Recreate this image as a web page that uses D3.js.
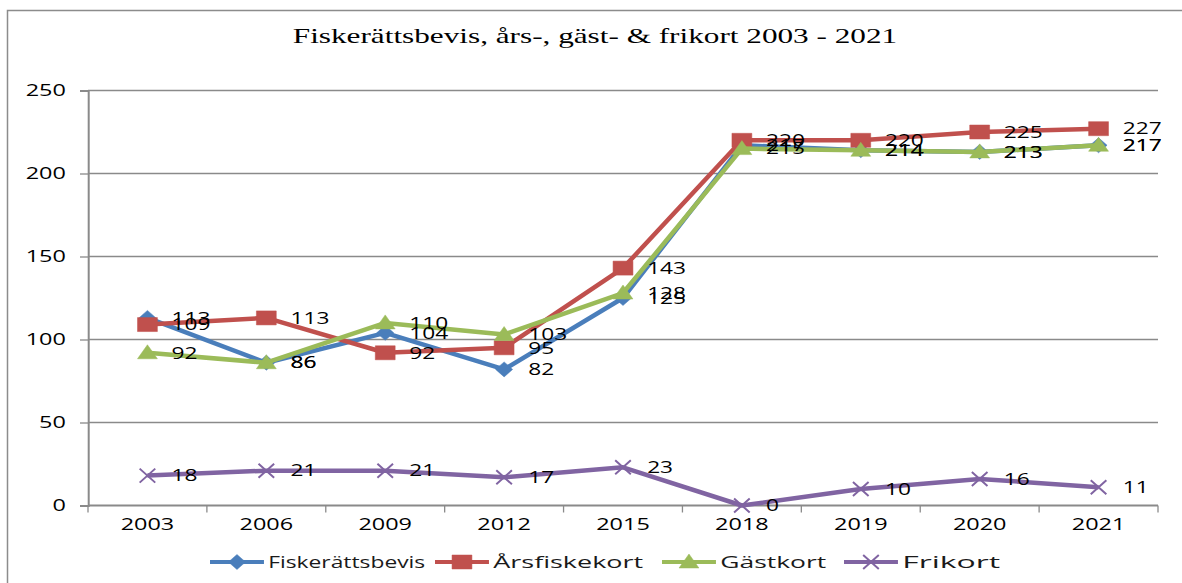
<!DOCTYPE html>
<html><head><meta charset="utf-8">
<script src="https://cdn.jsdelivr.net/npm/d3@7/dist/d3.min.js"></script>
<style>html,body{margin:0;padding:0;background:#fff;}svg{display:block;}</style>
</head><body>
<script>
const years = ["2003","2006","2009","2012","2015","2018","2019","2020","2021"];
const fiskerattsbevis = [113, 86, 104, 82, 125, 217, 214, 213, 217];
const arsfiskekort = [109, 113, 92, 95, 143, 220, 220, 225, 227];
const gastkort = [92, 86, 110, 103, 128, 215, 214, 213, 217];
const frikort = [18, 21, 21, 17, 23, 0, 10, 16, 11];
const yTicks = [0, 50, 100, 150, 200, 250];
const seriesNames = ["Fiskerättsbevis", "Årsfiskekort", "Gästkort", "Frikort"];
const titleText = "Fiskerättsbevis, års-, gäst- & frikort 2003 - 2021";

const W = 1182, H = 583, SX = 1.42;
const colors = ["#4A7EBB", "#C0504D", "#9BBB59", "#8064A2"];
const shapes = ["diamond", "square", "triangle", "x"];
const series = [fiskerattsbevis, arsfiskekort, gastkort, frikort].map((v, i) => ({name: seriesNames[i], values: v, color: colors[i], shape: shapes[i]}));

const svg = d3.select("body").append("svg").attr("width", W).attr("height", H);
// outer frame
svg.append("path").attr("d", `M7.5,${H} L7.5,10.5 L${W},10.5`).attr("fill", "none").attr("stroke", "#8c8c8c").attr("stroke-width", 1.5);

const g = svg.append("g").attr("transform", `scale(${SX},1)`);
const font = "'Open Sans', sans-serif";

const x = d3.scaleBand().domain(years).range([88 / SX, 1158 / SX]);
const y = d3.scaleLinear().domain([0, 250]).range([505.5, 90.5]);

// title
g.append("text").attr("x", 595 / SX).attr("y", 43).attr("text-anchor", "middle")
  .attr("font-family", "'Liberation Serif', 'Times New Roman', serif").attr("font-size", 22).attr("fill", "#000")
  .text(titleText);

// gridlines
g.append("g").selectAll("line").data(yTicks.filter(t => t > 0)).join("line")
  .attr("x1", x.range()[0]).attr("x2", x.range()[1])
  .attr("y1", d => y(d)).attr("y2", d => y(d))
  .attr("stroke", "#8a8a8a").attr("stroke-width", 1.3).attr("vector-effect", "non-scaling-stroke");

// y axis
const yAxis = g.append("g").attr("transform", `translate(${x.range()[0]},0)`)
  .call(d3.axisLeft(y).tickValues(yTicks).tickSize(8 / SX).tickPadding(10));
yAxis.select(".domain").attr("stroke", "#8a8a8a").attr("stroke-width", 2).attr("vector-effect", "non-scaling-stroke");
yAxis.selectAll(".tick line").attr("stroke", "#8a8a8a").attr("stroke-width", 1.3).attr("vector-effect", "non-scaling-stroke");
yAxis.selectAll(".tick text").attr("font-family", font).attr("font-size", 16.5).attr("fill", "#000");

// x axis
const xAxis = g.append("g").attr("transform", `translate(0,${y(0)})`)
  .call(d3.axisBottom(x).tickSize(0).tickPadding(13));
xAxis.select(".domain").remove();
xAxis.selectAll(".tick text").attr("font-family", font).attr("font-size", 16.5).attr("fill", "#000");
g.append("line").attr("x1", x.range()[0]).attr("x2", x.range()[1]).attr("y1", y(0)).attr("y2", y(0))
  .attr("stroke", "#8a8a8a").attr("stroke-width", 2).attr("vector-effect", "non-scaling-stroke");
const bounds = years.map(d => x(d)).concat([x.range()[1]]);
g.append("g").selectAll("line").data(bounds).join("line")
  .attr("x1", d => d).attr("x2", d => d).attr("y1", y(0)).attr("y2", y(0) + 7)
  .attr("stroke", "#8a8a8a").attr("stroke-width", 1.3).attr("vector-effect", "non-scaling-stroke");

function markerPath(shape) {
  if (shape === "diamond") return "M0,-7.5 L6,0 L0,7.5 L-6,0 Z";
  if (shape === "square") return "M-7,-7 L7,-7 L7,7 L-7,7 Z";
  if (shape === "triangle") return "M0,-8 L7,6 L-7,6 Z";
  return "M-5.5,-7 L5.5,7 M-5.5,7 L5.5,-7";
}
function drawMarker(sel, s) {
  sel.append("path").attr("d", markerPath(s.shape))
    .attr("fill", s.shape === "x" ? "none" : s.color)
    .attr("stroke", s.color).attr("stroke-width", s.shape === "x" ? 2 : 0.5)
    .attr("vector-effect", "non-scaling-stroke");
}

const cx = d => x(d) + x.bandwidth() / 2;
const line = d3.line().x((d, i) => cx(years[i])).y(d => y(d));

series.forEach(s => {
  const sg = g.append("g");
  sg.append("path").datum(s.values).attr("d", line).attr("fill", "none")
    .attr("stroke", s.color).attr("stroke-width", 4.5).attr("stroke-linejoin", "round")
    .attr("vector-effect", "non-scaling-stroke");
  s.values.forEach((v, i) => {
    const m = sg.append("g").attr("transform", `translate(${cx(years[i])},${y(v)})`);
    drawMarker(m, s);
  });
});
// data labels
series.forEach(s => {
  g.append("g").selectAll("text").data(s.values).join("text")
    .attr("x", (d, i) => cx(years[i]) + 17)
    .attr("y", d => y(d)).attr("dy", "0.36em")
    .attr("font-family", font).attr("font-size", 16).attr("fill", "#000")
    .text(d => d);
});

// legend
const legendX = [210, 435, 662, 844];
const legendTextW = [157, 150, 106, 98];
const ly = 562;
series.forEach((s, i) => {
  const lx = legendX[i] / SX;
  const lg = g.append("g");
  lg.append("line").attr("x1", lx).attr("x2", lx + 38).attr("y1", ly).attr("y2", ly)
    .attr("stroke", s.color).attr("stroke-width", 4).attr("vector-effect", "non-scaling-stroke");
  const m = lg.append("g").attr("transform", `translate(${lx + 19},${ly})`);
  drawMarker(m, s);
  lg.append("text").attr("x", lx + 41).attr("y", ly).attr("dy", "0.36em")
    .attr("font-family", font).attr("font-size", 16).attr("fill", "#1a1a1a")
    .attr("textLength", legendTextW[i] / SX).attr("lengthAdjust", "spacingAndGlyphs")
    .text(s.name);
});
</script>
</body></html>
